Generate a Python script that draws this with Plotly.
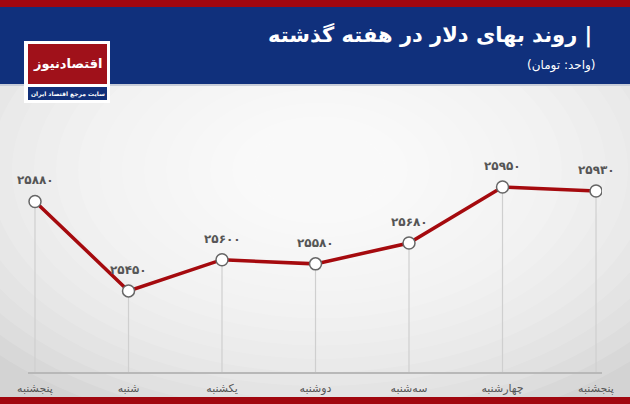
import plotly.graph_objects as go

# data
days = ['پنجشنبه', 'شنبه', 'یکشنبه', 'دوشنبه', 'سه‌شنبه', 'چهارشنبه', 'پنجشنبه']
prices = [25880, 25450, 25600, 25580, 25680, 25950, 25930]
title = 'روند بهای دلار در هفته گذشته |'
unit = '(واحد: تومان)'
logo_name = 'اقتصادنیوز'
logo_tag = 'سایت مرجع اقتصاد ایران'

W, H = 630, 404
FONT = 'DejaVu Sans'
fa_digits = str.maketrans('0123456789', '۰۱۲۳۴۵۶۷۸۹')


def px(x):
    return x / W


def py(y):
    return 1 - y / H


def rect(x0, y0, x1, y1, color, opacity=1, kind='rect'):
    return dict(type=kind, xref='paper', yref='paper', layer='below',
                x0=px(x0), x1=px(x1), y0=py(y1), y1=py(y0),
                fillcolor=color, opacity=opacity, line=dict(width=0))


xs = list(range(len(days)))
y_lo, y_hi = 25060, 26368

# drop lines from each point down to the baseline
drop_x, drop_y = [], []
for x, v in zip(xs, prices):
    drop_x += [x, x, None]
    drop_y += [v, y_lo, None]

fig = go.Figure()
fig.add_trace(go.Scatter(x=drop_x, y=drop_y, mode='lines',
                         line=dict(color='#cfcfcf', width=1.2), hoverinfo='skip'))
fig.add_trace(go.Scatter(x=xs, y=prices, mode='lines+markers',
                         line=dict(color='#a50a0e', width=3.5),
                         marker=dict(size=12, color='white',
                                     line=dict(color='#666666', width=1.5))))

# background: grey with soft white glow in the middle
shapes = [rect(0, 0, W, H, '#d3d3d3')]
for i in range(18):
    rx = 440 - i * 22
    ry = 270 - i * 13.5
    shapes.append(rect(320 - rx, 170 - ry, 320 + rx, 170 + ry, 'white', 0.13, 'circle'))
# header + footer bars
shapes.append(rect(0, 7, W, 84, '#10307c'))
shapes.append(rect(0, 84, W, 86, '#c8cdd8'))
shapes.append(rect(0, 0, W, 7, '#a1070f'))
shapes.append(rect(0, 397, W, H, '#a1070f'))
# logo
shapes.append(rect(24, 41, 110, 103, 'white'))
shapes.append(rect(28, 44, 107, 84, '#a0111a'))
shapes.append(rect(28, 87, 107, 100, '#12307a'))

annotations = [
    dict(text=title, x=px(594), y=py(35), xref='paper', yref='paper',
         xanchor='right', yanchor='middle', showarrow=False,
         font=dict(family=FONT, size=21, color='white', weight='bold')),
    dict(text=unit, x=px(598), y=py(65), xref='paper', yref='paper',
         xanchor='right', yanchor='middle', showarrow=False,
         font=dict(family=FONT, size=12, color='white')),
    dict(text=logo_name, x=px(67.5), y=py(63), xref='paper', yref='paper',
         xanchor='center', yanchor='middle', showarrow=False,
         font=dict(family=FONT, size=13, color='white', weight='bold')),
    dict(text=logo_tag, x=px(67.5), y=py(93.5), xref='paper', yref='paper',
         xanchor='center', yanchor='middle', showarrow=False,
         font=dict(family=FONT, size=6, color='white', weight='bold')),
]
for x, v in zip(xs, prices):
    annotations.append(dict(text=str(v).translate(fa_digits), x=x, y=v,
                            xref='x', yref='y', showarrow=False, yshift=21,
                            font=dict(family=FONT, size=12, color='#555555',
                                      weight='bold')))

fig.update_layout(
    width=W, height=H,
    margin=dict(l=0, r=0, t=0, b=0, autoexpand=False),
    paper_bgcolor='#d3d3d3',
    plot_bgcolor='rgba(0,0,0,0)',
    showlegend=False,
    shapes=shapes,
    annotations=annotations,
    xaxis=dict(domain=[px(28), px(602)], range=[-0.075, 6.064],
               tickmode='array', tickvals=xs, ticktext=days,
               showgrid=False, zeroline=False,
               showline=True, linecolor='#b8b8b8', linewidth=1.5,
               ticks='', ticklabelstandoff=5,
               tickfont=dict(family=FONT, size=11, color='#555555')),
    yaxis=dict(domain=[py(372), py(100)], range=[y_lo, y_hi],
               visible=False, showgrid=False, zeroline=False),
)

fig.write_html('out.html', config={'displayModeBar': False},
               post_script="document.body.style.margin='0';")
